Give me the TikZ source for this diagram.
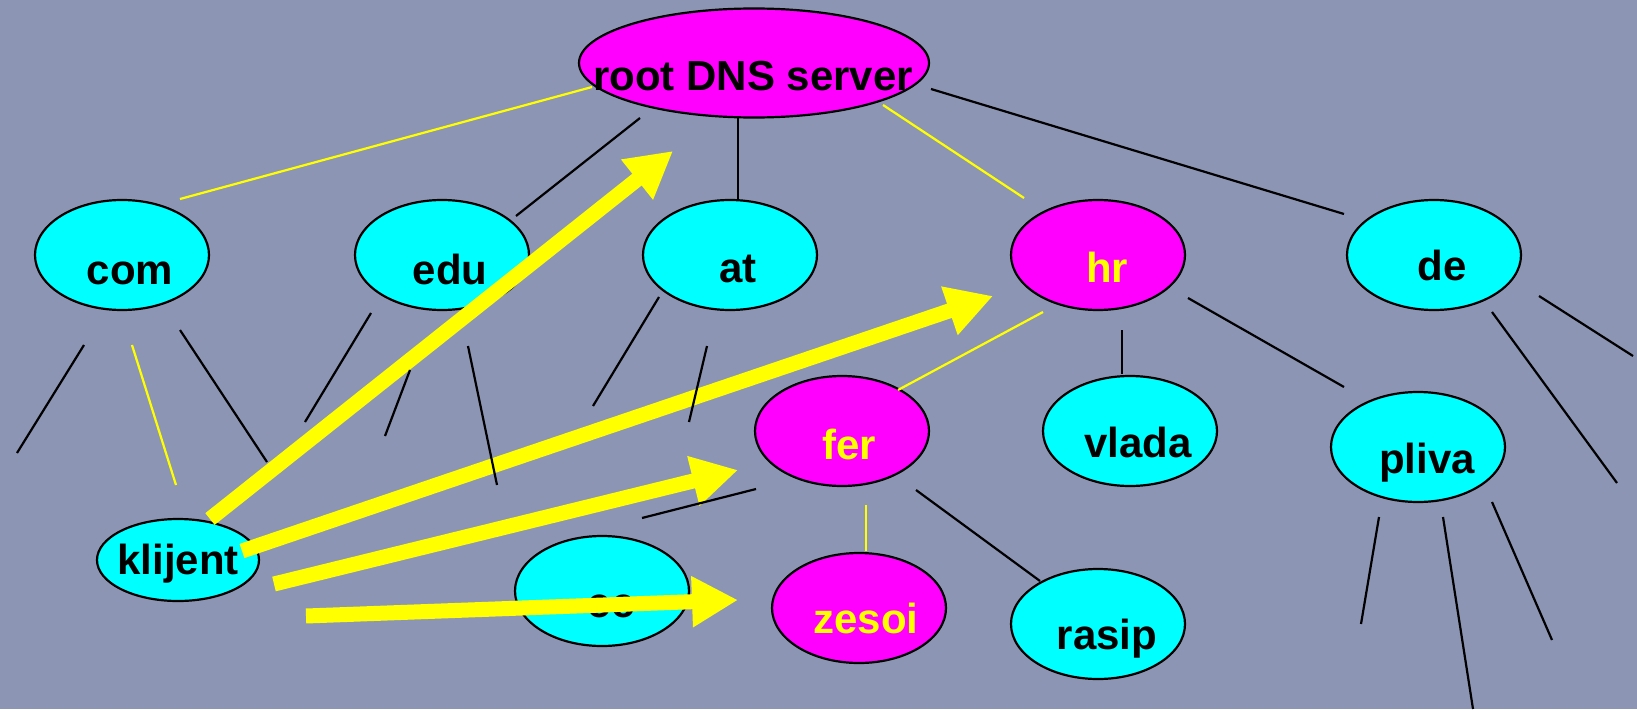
\documentclass[tikz,border=0pt]{standalone}
\usepackage{fontspec}
\setmainfont{Liberation Sans}
\usetikzlibrary{shapes.geometric, arrows.meta}
\definecolor{bg}{RGB}{140,150,180}
\definecolor{yel}{RGB}{255,255,0}
\definecolor{cyn}{RGB}{0,255,255}
\definecolor{mag}{RGB}{255,0,255}
\begin{document}
\begin{tikzpicture}[x=1pt,y=-1pt,
  nd/.style={ellipse, draw=black, line width=2.2pt, inner sep=0pt, minimum width=174pt, minimum height=110pt},
  cy/.style={nd, fill=cyn},
  mg/.style={nd, fill=mag},
  lbl/.style={anchor=base, inner sep=0pt, font=\fontsize{42}{42}\selectfont\bfseries},
  bl/.style={draw=black, line width=2.2pt},
  yl/.style={draw=yel, line width=2.2pt},
  yarrow/.style={draw=yel, line width=15pt, -{Triangle[length=46pt, width=48pt]}},
]
\fill[bg] (0,0) rectangle (1637,709);
\useasboundingbox (0,0) rectangle (1637,709);

% nodes
\node[mg, minimum width=350pt, minimum height=109pt] (root) at (754,63) {};
\node[cy] (com) at (122,255) {};
\node[cy] (edu) at (442,255) {};
\node[cy] (at) at (730,255) {};
\node[mg] (hr) at (1098,255) {};
\node[cy] (de) at (1434,255) {};
\node[mg] (fer) at (842,431) {};
\node[cy] (vlada) at (1130,431) {};
\node[cy] (pliva) at (1418,447) {};
\node[cy, minimum width=162pt, minimum height=82pt] (klijent) at (178,560) {};
\node[cy] (cc) at (602,591) {};
\node[mg] (zesoi) at (859,608) {};
\node[cy] (rasip) at (1098,624) {};

% labels
\node[lbl] (troot) at (753,90) {root DNS server};
\node[lbl] (tcom) at (130,284) {com};
\node[lbl] (tedu) at (450,284) {edu};
\node[lbl] (tat) at (738,282) {at};
\node[lbl, text=yel] (thr) at (1107,282) {hr};
\node[lbl] (tde) at (1442,280) {de};
\node[lbl, text=yel] (tfer) at (849,459) {fer};
\node[lbl] (tvlada) at (1138,457) {vlada};
\node[lbl] (tpliva) at (1427,473) {pliva};
\node[lbl] (tklijent) at (178,574) {klijent};
\node[lbl] (tcc) at (611,617) {cc};
\node[lbl, text=yel] (tzesoi) at (866,633) {zesoi};
\node[lbl] (trasip) at (1107,649) {rasip};

% arrow end points
\coordinate (a1s) at (210,519); \coordinate (a1e) at (673,151);
\coordinate (a2s) at (242,551); \coordinate (a2e) at (993,296);
\coordinate (a3s) at (274,584); \coordinate (a3e) at (738,470);
\coordinate (a4s) at (306,616); \coordinate (a4e) at (738,600);

\draw[yarrow] (a1s) -- (a1e);
\draw[yarrow] (a2s) -- (a2e);
\draw[yarrow] (a3s) -- (a3e);
\draw[yarrow] (a4s) -- (a4e);

% thin connector end points
\coordinate (r1) at (592,87);   \coordinate (c0) at (180,199);
\coordinate (r2) at (640,118);  \coordinate (e0) at (516,216);
\coordinate (r3) at (738,118);  \coordinate (t0) at (738,200);
\coordinate (r4) at (883,105);  \coordinate (h0) at (1024,198);
\coordinate (r5) at (931,89);   \coordinate (d0) at (1344,214);
% com children
\coordinate (c1a) at (84,345);  \coordinate (c1b) at (17,453);
\coordinate (c2a) at (132,345); \coordinate (c2b) at (176,485);
\coordinate (c3a) at (180,330); \coordinate (c3b) at (267,462);
% edu children
\coordinate (e1a) at (371,313); \coordinate (e1b) at (305,422);
\coordinate (e2a) at (410,370); \coordinate (e2b) at (385,436);
\coordinate (e3a) at (468,346); \coordinate (e3b) at (497,485);
% at children
\coordinate (t1a) at (659,297); \coordinate (t1b) at (593,406);
\coordinate (t2a) at (707,346); \coordinate (t2b) at (689,422);
% hr children
\coordinate (h1a) at (1043,312); \coordinate (h1b) at (898,390);
\coordinate (h2a) at (1122,330); \coordinate (h2b) at (1122,374);
\coordinate (h3a) at (1188,298); \coordinate (h3b) at (1344,387);
% de children
\coordinate (d1a) at (1539,296); \coordinate (d1b) at (1633,356);
\coordinate (d2a) at (1492,312); \coordinate (d2b) at (1617,483);
% pliva children
\coordinate (p1a) at (1379,517); \coordinate (p1b) at (1361,624);
\coordinate (p2a) at (1443,517); \coordinate (p2b) at (1473,709);
\coordinate (p3a) at (1492,502); \coordinate (p3b) at (1552,640);
% fer children
\coordinate (f1a) at (756,489);  \coordinate (f1b) at (642,518);
\coordinate (f2a) at (866,505);  \coordinate (f2b) at (866,551);
\coordinate (f3a) at (916,490);  \coordinate (f3b) at (1040,581);

\draw[yl] (r1) -- (c0);
\draw[bl] (r2) -- (e0);
\draw[bl] (r3) -- (t0);
\draw[yl] (r4) -- (h0);
\draw[bl] (r5) -- (d0);
\draw[bl] (c1a) -- (c1b);
\draw[yl] (c2a) -- (c2b);
\draw[bl] (c3a) -- (c3b);
\draw[bl] (e1a) -- (e1b);
\draw[bl] (e2a) -- (e2b);
\draw[bl] (e3a) -- (e3b);
\draw[bl] (t1a) -- (t1b);
\draw[bl] (t2a) -- (t2b);
\draw[yl] (h1a) -- (h1b);
\draw[bl] (h2a) -- (h2b);
\draw[bl] (h3a) -- (h3b);
\draw[bl] (d1a) -- (d1b);
\draw[bl] (d2a) -- (d2b);
\draw[bl] (p1a) -- (p1b);
\draw[bl] (p2a) -- (p2b);
\draw[bl] (p3a) -- (p3b);
\draw[bl] (f1a) -- (f1b);
\draw[yl] (f2a) -- (f2b);
\draw[bl] (f3a) -- (f3b);
\end{tikzpicture}
\end{document}
